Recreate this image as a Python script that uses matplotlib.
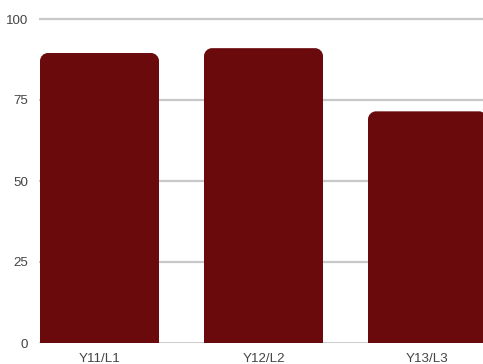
import numpy as np
import matplotlib
matplotlib.use("Agg")
import matplotlib.pyplot as plt
from matplotlib.path import Path
from matplotlib.patches import PathPatch

# ----------------------------------------------------
# Data
# ----------------------------------------------------
categories = ["Y11/L1", "Y12/L2", "Y13/L3"]
scores = [89.5, 91.0, 71.5]
y_ticks = [0, 25, 50, 75, 100]

BAR_COLOR = "#6a0a0d"
GRID_COLOR = "#c8c8c8"
TEXT_COLOR = "#444444"

plt.rcParams["font.family"] = ["Liberation Sans", "DejaVu Sans"]

W, H, DPI = 483, 364, 100
fig = plt.figure(figsize=(W / DPI, H / DPI), dpi=DPI)

# axes placed in pixels: y=0 at 21px from bottom, 100 at 345px
px_per_unit_y = 3.24
ymax = 101
ax_left, ax_bottom = 39, 21
ax_h = ymax * px_per_unit_y
ax = fig.add_axes([ax_left / W, ax_bottom / H, (W - ax_left) / W, ax_h / H])

px_per_unit_x = 164
bar_w = 119 / px_per_unit_x
x0 = -bar_w / 2 - 1 / px_per_unit_x
ax.set_xlim(x0, x0 + (W - ax_left) / px_per_unit_x)
ax.set_ylim(0, ymax)

# grid lines behind bars
for t in y_ticks:
    ax.axhline(t, color=GRID_COLOR, lw=2.0 if t == 0 else 1.6, zorder=1)


def rounded_bar(xc, h, w, rx, ry):
    """Bar path with rounded top corners (radius given separately per axis)."""
    l, r = xc - w / 2, xc + w / 2
    k = 0.5523
    verts = [
        (l, 0), (l, h - ry),
        (l, h - ry + k * ry), (l + rx - k * rx, h), (l + rx, h),
        (r - rx, h),
        (r - rx + k * rx, h), (r, h - ry + k * ry), (r, h - ry),
        (r, 0), (l, 0),
    ]
    codes = [Path.MOVETO, Path.LINETO,
             Path.CURVE4, Path.CURVE4, Path.CURVE4,
             Path.LINETO,
             Path.CURVE4, Path.CURVE4, Path.CURVE4,
             Path.LINETO, Path.CLOSEPOLY]
    return Path(verts, codes)


radius_px = 8
for i, v in enumerate(scores):
    p = rounded_bar(i, v, bar_w, radius_px / px_per_unit_x, radius_px / px_per_unit_y)
    ax.add_patch(PathPatch(p, facecolor=BAR_COLOR, edgecolor="none", zorder=2))

ax.set_yticks(y_ticks)
ax.set_yticklabels([str(t) for t in y_ticks])
ax.set_xticks(range(len(categories)))
ax.set_xticklabels(categories)
ax.tick_params(axis="both", length=0, labelsize=9.6, colors=TEXT_COLOR)
ax.tick_params(axis="y", pad=8)
ax.tick_params(axis="x", pad=7)
for s in ax.spines.values():
    s.set_visible(False)
ax.patch.set_alpha(0)

fig.savefig("out.png", dpi=DPI)
